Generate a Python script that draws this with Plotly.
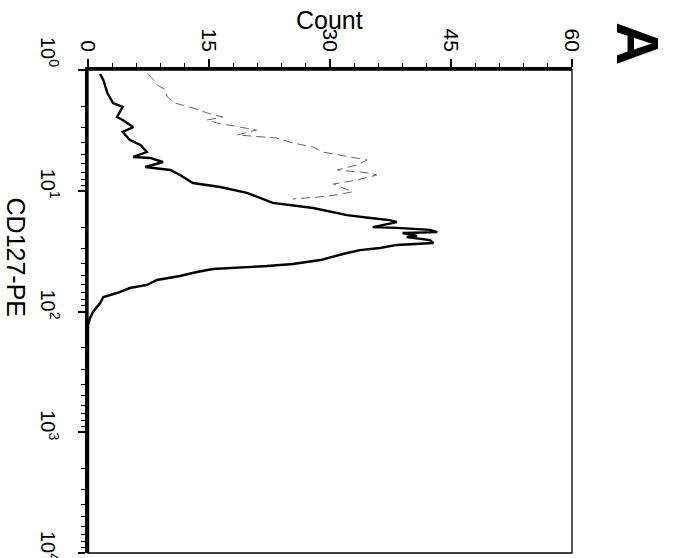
import plotly.graph_objects as go
import math

# ---- data ----
# stained sample histogram (thick black): CD127-PE intensity vs count
cd127_main = [1.08, 1.21, 1.55, 1.88, 2.02, 2.45, 2.59, 2.97, 3.26, 3.80, 4.18, 4.78, 5.25, 5.35,
              5.78, 6.36, 6.73, 7.41, 8.63, 9.31, 10.4, 12.6, 13.9, 15.9, 16.8, 17.5, 18.2, 20.0,
              20.3, 21.1, 22.0, 22.4, 23.7, 24.2, 25.6, 27.1, 28.1, 29.8, 31.0, 33.4, 37.5, 40.4,
              42.0, 43.6, 44.5, 47.1, 50.8, 54.8, 60.3, 63.9, 70.3, 75.9, 85.1, 101, 113, 129, 10000]
count_main = [1.5, 1.9, 2.4, 3.1, 4.3, 3.6, 4.3, 5.6, 4.3, 5.2, 6.5, 7.3, 5.6, 7.7,
              9.3, 7.1, 10.2, 11.4, 13.0, 16.4, 19.7, 22.9, 27.9, 32.1, 35.0, 37.4, 38.3, 35.3,
              38.3, 42.4, 43.3, 39.0, 40.8, 39.5, 42.4, 42.8, 38.3, 36.2, 33.7, 31.6, 28.8, 25.4,
              22.2, 18.5, 15.5, 13.5, 11.4, 8.55, 7.3, 5.2, 3.6, 1.9, 1.5, 0.62, 0.25, 0, 0]

# control histogram (thin grey, faint)
cd127_ctrl = [1.08, 1.16, 1.33, 1.46, 1.67, 1.88, 2.06, 2.27, 2.45, 2.59, 2.75, 3.02, 3.14, 3.45,
              3.66, 4.02, 4.34, 4.78, 5.05, 5.57, 6.12, 6.73, 7.14, 7.41, 8.16, 8.80, 10.2, 10.8,
              11.3, 11.7]
count_ctrl = [7.4, 7.9, 8.6, 9.6, 9.8, 10.8, 13.0, 14.8, 16.7, 14.8, 16.0, 19.2, 20.9, 18.5,
              23.4, 25.4, 27.9, 29.1, 31.2, 34.6, 33.3, 30.9, 35.0, 35.8, 33.3, 30.4, 32.8, 30.9,
              28.4, 25.4]

count_ticks = [0, 15, 30, 45, 60]
count_labels = ["0", "15", "30", "45", "60"]
cd_ticks = [1, 10, 100, 1000, 10000]
cd_labels = ["10<sup>0</sup>", "10<sup>1</sup>", "10<sup>2</sup>", "10<sup>3</sup>", "10<sup>4</sup>"]
cd_minor = [m * d for d in [1, 10, 100, 1000] for m in range(2, 10)]

FONT = "Liberation Sans, Arial, Helvetica, sans-serif"

fig = go.Figure()
fig.add_trace(go.Scatter(x=count_ctrl, y=cd127_ctrl, mode="lines",
                         line=dict(color="#666666", width=1, dash="9px,5px"),
                         showlegend=False, hoverinfo="skip"))
fig.add_trace(go.Scatter(x=count_main, y=cd127_main, mode="lines",
                         line=dict(color="black", width=2.4),
                         showlegend=False, hoverinfo="skip"))

fig.update_layout(
    width=673, height=558,
    margin=dict(l=88, r=101, t=70, b=5, pad=0),
    paper_bgcolor="white", plot_bgcolor="white",
    font=dict(family=FONT, color="black"),
    xaxis=dict(range=[0, 60], side="top", showgrid=False, zeroline=False,
               showline=True, linecolor="black", linewidth=2.5,
               ticks="outside", ticklen=8, tickwidth=1.5, tickcolor="black",
               tickvals=count_ticks, ticktext=count_labels, tickangle=90,
               tickfont=dict(size=21, family=FONT),
               minor=dict(tickvals=list(range(3, 60, 3)), ticks="outside",
                          ticklen=4, tickwidth=1, tickcolor="black", showgrid=False)),
    yaxis=dict(type="log", range=[4, 0], showgrid=False, zeroline=False,
               showline=True, linecolor="black", linewidth=3,
               ticks="outside", ticklen=7, tickwidth=1.5, tickcolor="black",
               tickvals=cd_ticks, showticklabels=False,
               minor=dict(tickvals=cd_minor, ticks="outside", ticklen=4,
                          tickwidth=1, tickcolor="black", showgrid=False)),
    shapes=[dict(type="rect", xref="paper", yref="paper", x0=0, x1=1, y0=0, y1=1,
                 line=dict(color="black", width=1.3), layer="above")],
)

annotations = []
for v, t in zip(cd_ticks, cd_labels):
    annotations.append(dict(x=-0.0785, xref="paper", y=math.log10(v), yref="y",
                            text=t, textangle=90, showarrow=False,
                            xanchor="center", yanchor="middle",
                            yshift=18 if v == 1 else 7,
                            font=dict(size=20, family=FONT)))
annotations.append(dict(x=0.498, xref="paper", y=1.1035, yref="paper", text="Count",
                        showarrow=False, xanchor="center", yanchor="middle",
                        font=dict(size=25, family=FONT)))
annotations.append(dict(x=-0.149, xref="paper", y=0.612, yref="paper", text="CD127-PE",
                        textangle=90, showarrow=False, xanchor="center", yanchor="middle",
                        font=dict(size=25, family=FONT)))
annotations.append(dict(x=1.134, xref="paper", y=1.054, yref="paper", text="<b>A</b>",
                        textangle=90, showarrow=False, xanchor="center", yanchor="middle",
                        font=dict(size=60, family=FONT)))
fig.update_layout(annotations=annotations)

fig.write_html("out.html", config={"displayModeBar": False})
